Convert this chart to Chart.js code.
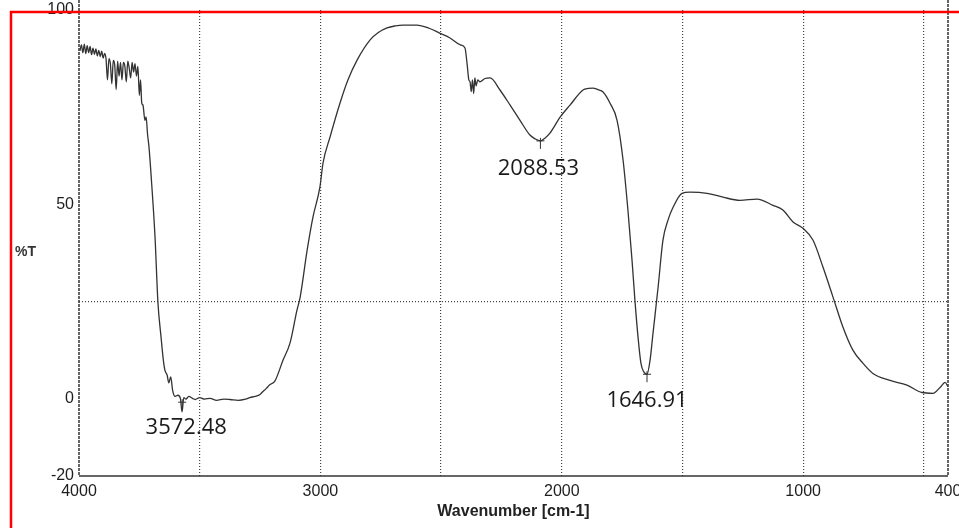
<!DOCTYPE html>
<html>
<head>
<meta charset="utf-8">
<script src="https://cdn.jsdelivr.net/npm/chart.js@4/dist/chart.umd.min.js"></script>
<style>
  html, body { margin: 0; padding: 0; background: #fff; }
  #wrap { position: relative; width: 959px; height: 528px; }
  canvas { display: block; }
</style>
</head>
<body>
<div id="wrap"><canvas id="c" width="959" height="528"></canvas></div>
<script>
// ---- data ----
const wavenumbers = [
  3996,3990,3984,3978,3972,3966,3960,3954,3948,3942,3936,3930,3924,3918,3912,3906,3900,3894,3888,
  3882,3876,3870,3864,3858,3852,3846,3840,3834,3828,3822,3816,3810,3804,3798,3792,3786,3780,3774,
  3768,3762,3756,3750,3745,3740,3735,3727,3722,3716,3710,3698,3685,3673,3660,3650,3644,3635,3628,
  3620,3612,3602,3590,3580,3573,3566,3557,3545,3530,3519,3500,3480,3457,3430,3400,3374,3340,3310,
  3292,3270,3250,3242,3225,3210,3188,3155,3126,3097,3084,3055,3031,3002,2989,2960,2919,2886,2848,
  2794,2760,2724,2690,2658,2600,2550,2504,2463,2420,2401,2392,2385,2380,2375,2370,2365,2360,2355,2348,2339,
  2320,2297,2256,2214,2173,2132,2110,2088.5,2070,2049,2007,1966,1912,1890,1871,1850,1829,1800,1771,
  1746,1726,1709,1697,1684,1672,1660,1647,1635,1622,1601,1581,1560,1539,1502,1469,1398,1332,1262,
  1191,1125,1084,1042,1001,959,918,876,835,794,752,711,640,570,508,462,433,412,400
];
const transmittance = [
  89.5,91.0,89.0,91.2,88.8,90.8,89.0,90.6,88.5,90.2,88.6,90.0,88.2,89.6,88.0,89.4,87.6,88.8,87.4,
  82.0,87.5,86.2,81.0,87.0,85.8,79.5,86.8,83.0,86.5,82.0,86.5,85.5,81.5,86.8,85.0,82.5,86.5,84.0,
  86.2,83.0,85.5,78.0,82.0,76.0,75.5,71.6,72.5,68.0,64.7,54.4,41.5,24.7,15.7,9.5,7.2,6.0,4.0,
  5.5,2.0,0.5,0.8,0.0,-3.5,0.2,-0.2,0.5,0.0,-0.3,0.2,-0.2,0.0,-0.5,-0.2,-0.3,-0.5,-0.2,
  0.2,0.5,1.0,1.5,2.5,3.5,4.5,9.8,14.2,22.7,26.0,38.1,46.6,54.4,60.6,67.3,76.0,82.0,87.1,
  92.3,94.2,95.4,95.9,96.1,96.1,95.3,94.0,92.8,91.0,90.2,86.0,82.0,81.5,79.0,82.0,78.5,82.5,80.5,82.0,81.5,
  82.3,82.5,79.4,75.5,71.6,67.8,66.8,66.3,67.0,68.3,72.4,75.5,79.4,79.8,79.9,79.5,78.9,76.0,71.6,
  61.3,48.5,35.6,25.3,15.7,9.0,6.8,6.2,9.5,16.8,28.6,40.7,45.9,49.2,52.8,53.1,52.8,51.8,51.0,
  51.3,49.7,48.5,45.4,43.8,40.7,33.8,26.0,18.3,12.4,9.0,6.4,4.6,3.4,1.5,1.3,2.8,4.1,3.0
];
const xTickValues = [400,500,1000,1500,2000,2500,3000,3500,4000];
const xTickLabels = [4000,3000,2000,1000,400];
const xGridValues = [500,1000,1500,2000,2500,3000,3500];
const yTickValues = [-20,0,25,50,100];
const yTickLabels = [-20,0,50,100];
const yGridValues = [25];
const peakWavenumbers = [3572.48, 2088.53, 1646.91];
const peakValues = [-1.0, 66.3, 6.2];
const peakLabels = ['3572.48', '2088.53', '1646.91'];
const xTitle = 'Wavenumber [cm-1]';
const yTitle = '%T';

const points = wavenumbers.map((w, i) => ({ x: w, y: transmittance[i] }));

const decor = {
  id: 'decor',
  afterDraw(chart) {
    const ctx = chart.ctx;
    const xs = chart.scales.x, ys = chart.scales.y;
    const a = chart.chartArea;
    ctx.save();
    // frame
    ctx.strokeStyle = '#333';
    ctx.lineWidth = 1.5;
    ctx.setLineDash([3, 1]);
    ctx.beginPath();
    ctx.moveTo(a.left, a.top - 10); ctx.lineTo(a.left, a.bottom);
    ctx.moveTo(a.right, a.top - 10); ctx.lineTo(a.right, a.bottom);
    ctx.stroke();
    ctx.setLineDash([]);
    ctx.lineWidth = 1.6;
    ctx.beginPath();
    ctx.moveTo(a.left, a.bottom); ctx.lineTo(a.right, a.bottom);
    ctx.stroke();
    // peak markers and labels
    ctx.fillStyle = '#1a1a1a';
    ctx.strokeStyle = '#333';
    ctx.lineWidth = 1;
    ctx.font = '22px "Open Sans", sans-serif';
    ctx.textAlign = 'center';
    ctx.textBaseline = 'middle';
    const labelDx = [4, -2, 0];
    const labelDy = [26, 28, 26];
    peakWavenumbers.forEach((w, i) => {
      const px = xs.getPixelForValue(w);
      const py = ys.getPixelForValue(peakValues[i]);
      ctx.beginPath();
      ctx.moveTo(px, py - 3); ctx.lineTo(px, py + 8);
      ctx.moveTo(px - 4, py); ctx.lineTo(px + 4, py);
      ctx.stroke();
      ctx.fillText(peakLabels[i], px + labelDx[i], py + labelDy[i]);
    });
    // y title
    ctx.font = 'bold 14px "Liberation Sans", Arial, sans-serif';
    ctx.fillStyle = '#333';
    ctx.textAlign = 'left';
    ctx.fillText(yTitle, 15, 252);
    // red border of the scan
    ctx.strokeStyle = '#ff0000';
    ctx.lineWidth = 2.5;
    ctx.beginPath();
    ctx.moveTo(11, 528); ctx.lineTo(11, 12); ctx.lineTo(959, 12);
    ctx.stroke();
    ctx.restore();
  }
};

new Chart(document.getElementById('c'), {
  type: 'scatter',
  data: {
    datasets: [{
      data: points,
      showLine: true,
      borderColor: '#333',
      borderWidth: 1.3,
      pointRadius: 0,
      cubicInterpolationMode: 'monotone'
    }]
  },
  options: {
    responsive: false,
    animation: false,
    events: [],
    layout: { padding: { left: 0, right: 11, top: 10, bottom: 0 } },
    plugins: { legend: { display: false }, tooltip: { enabled: false } },
    scales: {
      x: {
        type: 'linear',
        reverse: true,
        min: 400, max: 4000,
        afterBuildTicks: s => { s.ticks = xTickValues.map(v => ({ value: v })); },
        afterFit: s => { s.height = 52; s.paddingLeft = 0; s.paddingRight = 0; },
        ticks: {
          autoSkip: false, maxRotation: 0, padding: 6,
          color: '#1e1e1e',
          font: { family: '"Liberation Sans", Arial, sans-serif', size: 16 },
          callback: v => xTickLabels.includes(v) ? String(v) : ''
        },
        grid: {
          drawTicks: false,
          lineWidth: 1.2,
          color: c => xGridValues.includes(c.tick && c.tick.value) ? '#444' : 'rgba(0,0,0,0)'
        },
        border: { display: false, dash: [1, 2] },
        title: {
          display: true, text: xTitle, color: '#222',
          font: { family: '"Liberation Sans", Arial, sans-serif', size: 16, weight: 'bold' },
          padding: { top: 0, bottom: 7 }
        }
      },
      y: {
        type: 'linear',
        min: -20, max: 100,
        afterBuildTicks: s => { s.ticks = yTickValues.map(v => ({ value: v })); },
        afterFit: s => { s.width = 79; s.paddingTop = 0; s.paddingBottom = 0; },
        ticks: {
          autoSkip: false, padding: 5,
          color: '#1e1e1e',
          font: { family: '"Liberation Sans", Arial, sans-serif', size: 16 },
          callback: v => yTickLabels.includes(v) ? String(v) : ''
        },
        grid: {
          drawTicks: false,
          lineWidth: 1.2,
          color: c => yGridValues.includes(c.tick && c.tick.value) ? '#444' : 'rgba(0,0,0,0)'
        },
        border: { display: false, dash: [1, 2] }
      }
    }
  },
  plugins: [decor]
});
</script>
</body>
</html>
